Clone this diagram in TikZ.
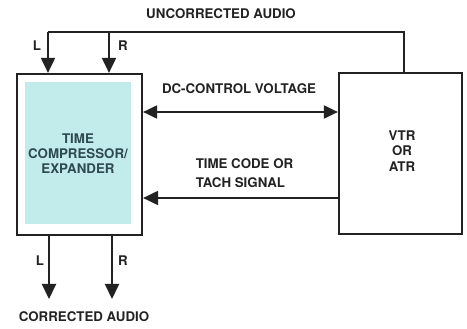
\documentclass[tikz,border=0pt]{standalone}
\usepackage{fontspec}
\setmainfont{TeX Gyre Heros}
\usetikzlibrary{arrows.meta}
\definecolor{boxfill}{HTML}{C2ECEC}
\definecolor{boxtext}{HTML}{2E4A50}
\definecolor{ink}{HTML}{222222}
\begin{document}
\begin{tikzpicture}[x=1pt,y=-1pt,
  lbl/.style={font=\fontsize{13.3}{19}\selectfont\bfseries, text=ink, inner sep=0pt},
  blk/.style={draw=ink, line width=2.2pt, fill=white, inner sep=0pt},
  wire/.style={draw=ink, line width=2pt},
  arr/.style={wire, -{Triangle[length=15pt,width=14pt]}},
  darr/.style={wire, {Triangle[length=14pt,width=13pt]}-{Triangle[length=14pt,width=13pt]}}]
\useasboundingbox (0,0) rectangle (467,329);
% blocks
\node[blk, minimum width=125pt, minimum height=161pt] (tce) at (79.5,154.5) {};
\node[fill=boxfill, minimum width=106pt, minimum height=142pt, inner sep=0pt] (tcefill) at (78,153) {};
\node[lbl, text=boxtext, align=center, font=\fontsize{13.3}{15}\selectfont\bfseries] (tcetxt) at (78,154) {TIME\\COMPRESSOR/\\EXPANDER};
\node[blk, minimum width=123pt, minimum height=161pt] (vtr) at (400.5,153.5) {};
\node[lbl, align=center, font=\fontsize{13.3}{15.5}\selectfont\bfseries] (vtrtxt) at (402,151) {VTR\\OR\\ATR};
% top feed
\coordinate (tr) at (404,32);
\coordinate (tl) at (48,32);
\coordinate (tm) at (109,32);
\draw[wire] (vtr.north -| tr) -- (tr) -- (tl);
\draw[arr] (tl) -- (tl |- tce.north);
\draw[arr] (tm) -- (tm |- tce.north);
% control lines
\coordinate (dc) at (0,112);
\draw[darr] (tce.east |- dc) -- (vtr.west |- dc);
\coordinate (tc) at (0,198);
\draw[arr] (vtr.west |- tc) -- (tce.east |- tc);
% outputs
\coordinate (ol) at (49,299);
\coordinate (or) at (112,299);
\draw[arr] (ol |- tce.south) -- (ol);
\draw[arr] (or |- tce.south) -- (or);
% labels
\node[lbl] (unc) at (221,14) {UNCORRECTED AUDIO};
\node[lbl] (tl1) at (37,46) {L};
\node[lbl] (tr1) at (123,46) {R};
\node[lbl] (dcl) at (239,89) {DC-CONTROL VOLTAGE};
\node[lbl, align=left] (tcl) at (244.5,173.5) {TIME CODE OR\\TACH SIGNAL};
\node[lbl] (bl) at (40,261) {L};
\node[lbl] (br) at (123,261) {R};
\node[lbl] (cor) at (84,317) {CORRECTED AUDIO};
\end{tikzpicture}
\end{document}
